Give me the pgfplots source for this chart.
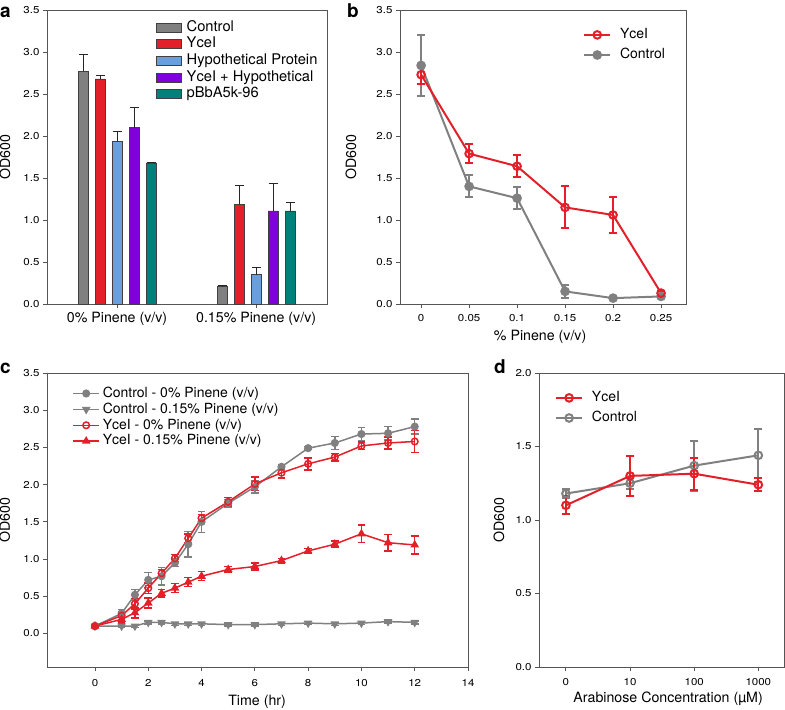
\documentclass[border=0pt]{standalone}
\usepackage{pgfplots}
\pgfplotsset{compat=1.18}
\usepackage{fontspec}
\setmainfont{TeX Gyre Heros}
\newfontfamily\tickfamily[FakeStretch=1.15]{TeX Gyre Heros}
\newcommand\tickfont{\tickfamily\fontsize{10bp}{11bp}\selectfont}
\newcommand\labfont{\fontsize{14.2bp}{16bp}\selectfont}
\newcommand\legfont{\fontsize{14bp}{16bp}\selectfont}
\newcommand\legafont{\fontsize{14.7bp}{16bp}\selectfont}
\newcommand\letfont{\fontsize{19bp}{21bp}\selectfont\bfseries}
\definecolor{cgray}{HTML}{808080}
\definecolor{cred}{HTML}{E3202A}
\definecolor{cblue}{HTML}{6A9FDC}
\definecolor{cpurple}{HTML}{8000DC}
\definecolor{cteal}{HTML}{00807A}
\definecolor{caxis}{HTML}{555555}
\pgfplotsset{
  panel/.style={
    scale only axis, anchor=south west,
    axis line style={caxis, line width=0.9bp},
    tick style={caxis, line width=0.9bp},
    tick align=outside, tick pos=left, major tick length=4bp,
    ticklabel style={font=\tickfont},
    /pgf/number format/assume math mode=true,
    label style={font=\labfont},
    yticklabel style={/pgf/number format/fixed, /pgf/number format/fixed zerofill, /pgf/number format/precision=1},
    legend cell align=left,
    legend style={draw=none, fill=none, font=\legfont, inner sep=0pt,
      nodes={inner sep=0.8bp, text height=10bp, text depth=2.5bp},
      /tikz/every odd column/.append style={column sep=4bp}},
  },
  linelegend/.style={legend image code/.code={\draw[mark repeat=2,mark phase=2,##1] plot coordinates {(0bp,0bp) (13bp,0bp) (26bp,0bp)};}},
}
\begin{document}
\begin{tikzpicture}
\useasboundingbox (0,0) rectangle (785bp,-710bp);
% ---------------- panel a
\begin{axis}[panel, at={(47bp,-304bp)}, width=280bp, height=294bp,
  xmin=-0.504, xmax=1.51, ymin=0, ymax=3.5, ytick={0,0.5,1,1.5,2,2.5,3,3.5},
  xtick={0,1}, xticklabels={0\% Pinene (v/v), 0.15\% Pinene (v/v)},
  xticklabel style={font=\labfont, yshift=-1bp},
  ylabel={OD600}, ylabel style={at={(axis description cs:-0.118,0.5)}, anchor=south},
  ybar, bar width=10bp,
  legend image code/.code={\draw[#1] (0bp,-4.5bp) rectangle (25bp,4.5bp);},
  legend style={at={(0.39,0.965)}, anchor=north west, row sep=2.5bp, font=\legafont},
  every axis plot/.append style={draw=black!75, line width=0.5bp},
  error bars/y dir=plus, error bars/y explicit,
  error bars/error bar style={black!85, line width=0.9bp},
  error bars/error mark options={rotate=90, mark size=4.5bp, black!85, line width=0.9bp},
]
\addplot[fill=cgray, bar shift=-34bp] table[x=x, y=y, y error=e, row sep=\\] {x y e\\ 0 2.77 0.20\\ 1 0.21 0.01\\};
\addlegendentry{Control}
\addplot[fill=cred, bar shift=-17bp] table[x=x, y=y, y error=e, row sep=\\] {x y e\\ 0 2.68 0.04\\ 1 1.19 0.22\\};
\addlegendentry{YceI}
\addplot[fill=cblue, bar shift=0bp] table[x=x, y=y, y error=e, row sep=\\] {x y e\\ 0 1.94 0.12\\ 1 0.35 0.09\\};
\addlegendentry{Hypothetical Protein}
\addplot[fill=cpurple, bar shift=17bp] table[x=x, y=y, y error=e, row sep=\\] {x y e\\ 0 2.10 0.24\\ 1 1.11 0.33\\};
\addlegendentry{YceI + Hypothetical}
\addplot[fill=cteal, bar shift=34bp] table[x=x, y=y, y error=e, row sep=\\] {x y e\\ 0 1.68 0.01\\ 1 1.11 0.10\\};
\addlegendentry{pBbA5k-96}
\end{axis}
% ---------------- panel b
\begin{axis}[panel, linelegend, at={(400bp,-304bp)}, width=286bp, height=294bp,
  xmin=-0.022, xmax=0.276, ymin=0, ymax=3.5, ytick={0,0.5,1,1.5,2,2.5,3,3.5},
  xtick={0,0.05,0.1,0.15,0.2,0.25}, xticklabels={0,0.05,0.1,0.15,0.2,0.25},
  xticklabel style={yshift=-3bp},
  ylabel={OD600}, ylabel style={at={(axis description cs:-0.140,0.5)}, anchor=south},
  xlabel={\% Pinene (v/v)}, xlabel style={at={(axis description cs:0.49,-0.112)}, anchor=center},
  reverse legend,
  legend style={at={(0.64,0.94)}, anchor=north west, row sep=6bp,
    /tikz/every odd column/.append style={column sep=8bp}},
  every axis plot/.append style={line width=2bp},
  error bars/y dir=both, error bars/y explicit,
  error bars/error bar style={line width=2bp},
  error bars/error mark options={rotate=90, mark size=4bp, line width=2bp},
]
\addplot[cgray, mark=*, mark size=3.8bp, mark options={fill=cgray}] table[x=x, y=y, y error=e, row sep=\\] {x y e\\ 0 2.84 0.36\\ 0.05 1.40 0.13\\ 0.1 1.26 0.13\\ 0.15 0.15 0.08\\ 0.2 0.07 0.01\\ 0.25 0.09 0.01\\};
\addlegendentry{Control}
\addplot[cred, mark=o, mark size=3.8bp] table[x=x, y=y, y error=e, row sep=\\] {x y e\\ 0 2.73 0.11\\ 0.05 1.79 0.11\\ 0.1 1.64 0.13\\ 0.15 1.15 0.25\\ 0.2 1.06 0.21\\ 0.25 0.13 0.02\\};
\addlegendentry{YceI}
\end{axis}
% ---------------- panel c
\begin{axis}[panel, linelegend, at={(47bp,-667bp)}, width=421bp, height=294bp,
  xmin=-1.8, xmax=14, ymin=-0.45, ymax=3.5, ytick={0,0.5,1,1.5,2,2.5,3,3.5},
  xtick={0,2,4,6,8,10,12,14},
  xticklabel style={yshift=-5bp},
  ylabel={OD600}, ylabel style={at={(axis description cs:-0.079,0.5)}, anchor=south},
  xlabel={Time (hr)}, xlabel style={at={(axis description cs:0.499,-0.119)}, anchor=center},
  legend style={at={(0.06,0.955)}, anchor=north west, row sep=1.8bp,
    /tikz/every odd column/.append style={column sep=2bp}},
  every axis plot/.append style={line width=1.5bp},
  error bars/y dir=both, error bars/y explicit,
  error bars/error bar style={line width=1.5bp},
  error bars/error mark options={rotate=90, mark size=3.8bp, line width=1.5bp},
]
\addplot[cgray, mark=*, mark size=3.3bp, mark options={fill=cgray}] table[x=x, y=y, y error=e, row sep=\\] {x y e\\
0 0.10 0.02\\ 1 0.27 0.05\\ 1.5 0.52 0.07\\ 2 0.72 0.10\\ 2.5 0.77 0.12\\ 3 0.95 0.05\\ 3.5 1.20 0.17\\ 4 1.50 0.14\\
5 1.75 0.05\\ 6 1.97 0.08\\ 7 2.24 0.03\\ 8 2.49 0.02\\ 9 2.56 0.09\\ 10 2.68 0.09\\ 11 2.69 0.09\\ 12 2.78 0.10\\};
\addlegendentry{Control - 0\% Pinene (v/v)}
\addplot[cgray, mark=triangle*, mark size=3.6bp, mark options={fill=cgray, rotate=180}] table[x=x, y=y, y error=e, row sep=\\] {x y e\\
0 0.10 0.02\\ 1 0.10 0.02\\ 1.5 0.10 0.02\\ 2 0.15 0.02\\ 2.5 0.15 0.02\\ 3 0.13 0.02\\ 3.5 0.13 0.02\\ 4 0.13 0.02\\
5 0.12 0.02\\ 6 0.12 0.02\\ 7 0.13 0.02\\ 8 0.14 0.02\\ 9 0.13 0.02\\ 10 0.14 0.02\\ 11 0.16 0.02\\ 12 0.15 0.02\\};
\addlegendentry{Control - 0.15\% Pinene (v/v)}
\addplot[cred, mark=o, mark size=3.3bp] table[x=x, y=y, y error=e, row sep=\\] {x y e\\
0 0.10 0.02\\ 1 0.24 0.05\\ 1.5 0.40 0.07\\ 2 0.61 0.07\\ 2.5 0.81 0.05\\ 3 1.01 0.05\\ 3.5 1.28 0.06\\ 4 1.55 0.05\\
5 1.77 0.06\\ 6 2.01 0.09\\ 7 2.16 0.07\\ 8 2.28 0.08\\ 9 2.37 0.05\\ 10 2.52 0.05\\ 11 2.56 0.08\\ 12 2.58 0.15\\};
\addlegendentry{YceI - 0\% Pinene (v/v)}
\addplot[cred, mark=triangle*, mark size=3.6bp, mark options={fill=cred}] table[x=x, y=y, y error=e, row sep=\\] {x y e\\
0 0.10 0.02\\ 1 0.19 0.05\\ 1.5 0.28 0.07\\ 2 0.41 0.07\\ 2.5 0.54 0.05\\ 3 0.61 0.06\\ 3.5 0.69 0.06\\ 4 0.77 0.06\\
5 0.86 0.04\\ 6 0.90 0.05\\ 7 0.98 0.03\\ 8 1.11 0.03\\ 9 1.20 0.04\\ 10 1.34 0.12\\ 11 1.22 0.11\\ 12 1.19 0.12\\};
\addlegendentry{YceI - 0.15\% Pinene (v/v)}
\end{axis}
% ---------------- panel d
\begin{axis}[panel, linelegend, at={(539bp,-667bp)}, width=245bp, height=294bp,
  xmin=-0.42, xmax=3.4, ymin=0, ymax=2, ytick={0,0.5,1,1.5,2},
  xtick={0,1,2,3}, xticklabels={0,10,100,1000},
  xticklabel style={yshift=-4bp},
  ylabel={OD600}, ylabel style={at={(axis description cs:-0.127,0.5)}, anchor=south},
  xlabel={Arabinose Concentration (µM)}, xlabel style={at={(axis description cs:0.527,-0.109)}, anchor=center},
  reverse legend,
  legend style={at={(0.065,0.94)}, anchor=north west, row sep=6bp,
    /tikz/every odd column/.append style={column sep=8bp}},
  every axis plot/.append style={line width=2bp},
  error bars/y dir=both, error bars/y explicit,
  error bars/error bar style={line width=2bp},
  error bars/error mark options={rotate=90, mark size=4bp, line width=2bp},
]
\addplot[cgray, mark=o, mark size=3.8bp] table[x=x, y=y, y error=e, row sep=\\] {x y e\\ 0 1.18 0.03\\ 1 1.25 0.04\\ 2 1.37 0.17\\ 3 1.44 0.18\\};
\addlegendentry{Control}
\addplot[cred, mark=o, mark size=3.8bp] table[x=x, y=y, y error=e, row sep=\\] {x y e\\ 0 1.10 0.06\\ 1 1.30 0.135\\ 2 1.315 0.11\\ 3 1.24 0.045\\};
\addlegendentry{YceI}
\end{axis}
% panel letters
\node[font=\letfont, anchor=base west, inner sep=0pt] at (0bp,-17bp) {a};
\node[font=\letfont, anchor=base west, inner sep=0pt] at (347bp,-17bp) {b};
\node[font=\letfont, anchor=base west, inner sep=0pt] at (0bp,-373bp) {c};
\node[font=\letfont, anchor=base west, inner sep=0pt] at (494bp,-373bp) {d};
\end{tikzpicture}
\end{document}
